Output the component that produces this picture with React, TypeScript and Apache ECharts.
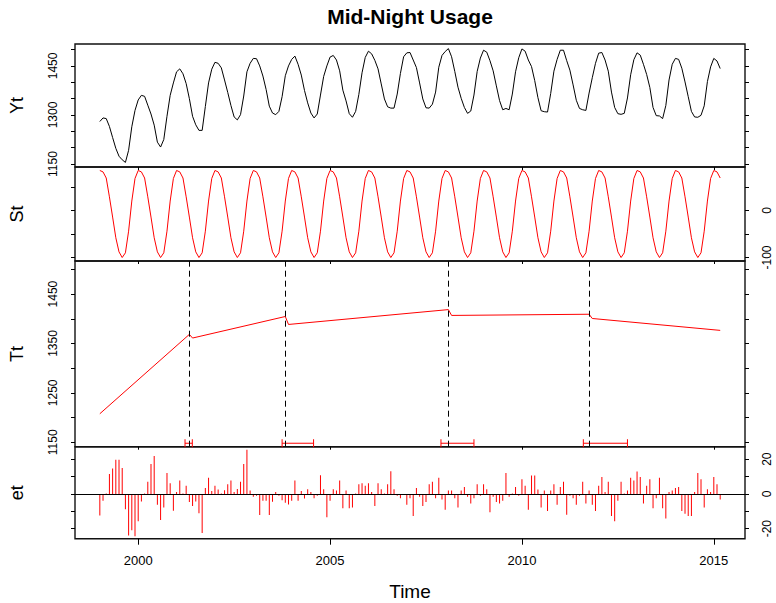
import React, { useEffect, useRef } from "react";
import * as echarts from "echarts";

// Monthly series, Jan 1999 .. Mar 2015 (195 months)
const startYear = 1999;

const yt = [
  1280, 1291, 1289, 1265, 1231, 1198, 1174, 1163, 1155, 1192, 1264, 1314,
  1346, 1360, 1357, 1330, 1303, 1269, 1217, 1202, 1225, 1296, 1360, 1398,
  1432, 1441, 1426, 1396, 1350, 1296, 1270, 1253, 1253, 1326, 1398, 1440,
  1461, 1458, 1444, 1407, 1369, 1329, 1294, 1285, 1301, 1358, 1432, 1458,
  1473, 1472, 1450, 1419, 1378, 1327, 1306, 1301, 1311, 1356, 1420, 1450,
  1470, 1480, 1455, 1422, 1375, 1337, 1306, 1291, 1303, 1361, 1418, 1450,
  1477, 1482, 1468, 1435, 1376, 1343, 1304, 1293, 1311, 1363, 1429, 1476,
  1495, 1487, 1467, 1441, 1395, 1349, 1325, 1321, 1321, 1364, 1427, 1478,
  1490, 1491, 1468, 1445, 1398, 1349, 1322, 1321, 1333, 1370, 1446, 1482,
  1494, 1503, 1478, 1433, 1385, 1351, 1323, 1305, 1312, 1361, 1433, 1474,
  1498, 1492, 1466, 1435, 1389, 1344, 1316, 1320, 1316, 1364, 1432, 1475,
  1502, 1495, 1468, 1448, 1405, 1353, 1313, 1310, 1309, 1366, 1434, 1470,
  1498, 1498, 1466, 1437, 1392, 1345, 1320, 1316, 1314, 1367, 1414, 1458,
  1489, 1491, 1468, 1434, 1370, 1323, 1304, 1302, 1305, 1352, 1423, 1469,
  1490, 1483, 1455, 1424, 1384, 1323, 1298, 1297, 1289, 1329, 1407, 1455,
  1473, 1470, 1443, 1401, 1356, 1311, 1294, 1293, 1299, 1328, 1402, 1447,
  1473, 1465, 1442,
];

const st = [
  85, 82, 69, 29, -14, -58, -88, -100, -90, -44, 20, 68,
  85, 82, 69, 29, -14, -58, -88, -100, -90, -44, 20, 68,
  85, 82, 69, 29, -14, -58, -88, -100, -90, -44, 20, 68,
  85, 82, 69, 29, -14, -58, -88, -100, -90, -44, 20, 68,
  85, 82, 69, 29, -14, -58, -88, -100, -90, -44, 20, 68,
  85, 82, 69, 29, -14, -58, -88, -100, -90, -44, 20, 68,
  85, 82, 69, 29, -14, -58, -88, -100, -90, -44, 20, 68,
  85, 82, 69, 29, -14, -58, -88, -100, -90, -44, 20, 68,
  85, 82, 69, 29, -14, -58, -88, -100, -90, -44, 20, 68,
  85, 82, 69, 29, -14, -58, -88, -100, -90, -44, 20, 68,
  85, 82, 69, 29, -14, -58, -88, -100, -90, -44, 20, 68,
  85, 82, 69, 29, -14, -58, -88, -100, -90, -44, 20, 68,
  85, 82, 69, 29, -14, -58, -88, -100, -90, -44, 20, 68,
  85, 82, 69, 29, -14, -58, -88, -100, -90, -44, 20, 68,
  85, 82, 69, 29, -14, -58, -88, -100, -90, -44, 20, 68,
  85, 82, 69, 29, -14, -58, -88, -100, -90, -44, 20, 68,
  85, 82, 69,
];

const et = [
  -12.5, -4, 0.3, 11.5, 14.6, 19.7, 19.7, 15, -8.9, -23.9, -21, -24.4,
  -15.7, -4.4, 0.3, 7, 17.2, 21.8, -6.3, -15, -7.8, 12.1, 6.2, -9.7,
  1.1, 7.8, 0.2, 4.7, -4.7, -7, -4.4, -11.2, -22.5, 3.4, 9.3, 1.7,
  4.7, 2.5, 0.2, 2.1, 5.5, 7.8, 1.1, 2.8, 7, 17.2, 25.4, 1.9,
  -1.7, -1.1, -12.1, -4, -4, -12.1, -4.5, 1.1, -1.1, -3.6, -5.1, -6.1,
  -4, 7.8, -4, 1.7, -2.6, 2.7, 1.1, -2.5, -1.1, 10.8, 2.7, -13.4,
  -4, 2.7, 1.9, 7.8, -8.3, 1.9, -8.3, -7.8, 0.2, 5.5, 6.2, 4.7,
  6.2, 1.1, -7, 6.2, 2.7, 0.2, 5.5, 13, 2.7, -1.1, -2.5, -0.2,
  -6.3, -2.5, -12.7, 3.4, -1.7, -7, -4.7, 5.5, 7, -2.5, 9.3, -3.2,
  -9.1, 1.9, 1.9, -2.5, -7.8, 1.9, 4, -1.7, -5.5, -2.5, 5.5, -1.1,
  5.5, 2.7, -10.6, -1.7, -4.7, -5.5, -4, 12.1, -1.7, 0.2, 4, -1.1,
  8.5, 4.7, -9.1, 10.6, 10.6, 2.5, -7.8, 1.9, -9.8, 1.9, 5.5, -6.3,
  4, 7, -12, -1.1, -2.5, -6.3, -1.1, 7, -5.5, 1.9, -6.3, -9.8,
  4.7, 9.8, 1.1, 7, -12.7, -15.7, -4, 7, 0.2, 1.9, 9.3, 7.8,
  12.9, 9.8, -5.5, 4.7, 8.5, -8.3, -2.5, 9.3, -8.3, -14.2, 1.1, 1.9,
  3.4, 4, -9.8, -11.4, -12.7, -12.7, 1.1, 12.1, 8.5, -7.8, 2.7, 1.1,
  9.8, 5.5, -3.2,
];

// Piecewise-linear trend read at segment ends
const trendTime = [1999.0, 2001.333, 2001.417, 2003.833, 2003.917, 2008.083, 2008.167, 2011.75, 2011.833, 2015.167];
const trendValue = [1207.7, 1368.4, 1361.0, 1404.6, 1388.5, 1418.6, 1406.8, 1409.2, 1400.6, 1376.5];

// Breakpoints and their confidence intervals
const breakpoints = [2001.333, 2003.833, 2008.083, 2011.75];
const ciLow = [2001.22, 2003.75, 2007.89, 2011.6];
const ciHigh = [2001.41, 2004.57, 2008.75, 2012.75];
const ciLevel = 1148;

// Axis ticks / labels
const yearTicks = [2000, 2005, 2010, 2015];
const levelTicks = [1150, 1200, 1250, 1300, 1350, 1400, 1450, 1500];
const ytLabels = [1150, 1300, 1450];
const ttLabels = [1150, 1250, 1350, 1450];
const stTicks = [-100, -50, 0, 50];
const stLabels = [-100, 0];
const etTicks = [-20, -10, 0, 10, 20];
const etLabels = [-20, 0, 20];

const FONT = "'Liberation Sans', Arial, sans-serif";
const RED = "#ff0000";
const X_MIN = 1998.353;
const X_MAX = 2015.813;

const PLOT_LEFT = 75;
const PLOT_W = 670;
const panels = [
  { top: 44, height: 123 },
  { top: 167, height: 94 },
  { top: 261, height: 185.7 },
  { top: 446.7, height: 92 },
];

function timeOf(k: number) {
  return startYear + k / 12;
}

export default function App() {
  const ref = useRef<HTMLDivElement>(null);

  useEffect(() => {
    if (!ref.current) return;
    const chart = echarts.init(ref.current, undefined, { renderer: "svg" });

    const ytData = yt.map((v, k) => [timeOf(k), v]);
    const stData = st.map((v, k) => [timeOf(k), v]);
    const etData = et.map((v, k) => [timeOf(k), v]);
    const ttData = trendTime.map((t, i) => [t, trendValue[i]]);
    const ciData = ciLow.map((lo, i) => [lo, ciHigh[i], ciLevel]);

    const plain = (v: number) => String(Math.round(v));

    const xAxes = panels.map((_, i) => ({
      type: "value",
      gridIndex: i,
      min: X_MIN,
      max: X_MAX,
      axisLine: { show: false, onZero: false },
      splitLine: { show: false },
      axisTick: {
        show: true,
        customValues: yearTicks,
        length: i === 3 ? 6 : 3,
        lineStyle: { color: "#000", width: 1 },
      },
      axisLabel: {
        show: i === 3,
        customValues: yearTicks,
        color: "#000",
        fontSize: 13,
        fontFamily: FONT,
        margin: 15,
        formatter: plain,
      },
    }));

    const mkY = (
      gridIndex: number,
      position: "left" | "right",
      min: number,
      max: number,
      ticks: number[],
      labels: number[] | null
    ) => ({
      type: "value",
      gridIndex,
      position,
      min,
      max,
      axisLine: { show: false },
      splitLine: { show: false },
      axisTick: {
        show: true,
        customValues: ticks,
        length: 4,
        lineStyle: { color: "#000", width: 1 },
      },
      axisLabel: {
        show: !!labels,
        customValues: labels || [],
        rotate: 90,
        color: "#000",
        fontSize: 12,
        fontFamily: FONT,
        margin: 16,
        formatter: plain,
      },
    });

    const yAxes = [
      mkY(0, "left", 1141, 1517, levelTicks, ytLabels),
      mkY(0, "right", 1141, 1517, levelTicks, null),
      mkY(1, "left", -107.4, 92.4, stTicks, null),
      mkY(1, "right", -107.4, 92.4, stTicks, stLabels),
      mkY(2, "left", 1141, 1517, levelTicks, ttLabels),
      mkY(2, "right", 1141, 1517, levelTicks, null),
      mkY(3, "left", -25.8, 27.2, etTicks, null),
      mkY(3, "right", -25.8, 27.2, etTicks, etLabels),
    ];

    const nameText = (text: string, x: number, y: number, rot: number, size: number) => ({
      type: "text",
      x,
      y,
      rotation: rot,
      style: {
        text,
        fill: "#000",
        fontSize: size,
        fontFamily: FONT,
        align: "center",
        verticalAlign: "middle",
      },
    });

    const option = {
      animation: false,
      backgroundColor: "#fff",
      title: {
        text: "Mid-Night Usage",
        left: 410,
        top: 6,
        textAlign: "center",
        padding: 0,
        textStyle: { fontSize: 21, fontWeight: "bold", color: "#000", fontFamily: FONT },
      },
      grid: panels.map((p) => ({
        left: PLOT_LEFT,
        width: PLOT_W,
        top: p.top,
        height: p.height,
        show: true,
        borderColor: "#111",
        borderWidth: 1.4,
        backgroundColor: "transparent",
        containLabel: false,
      })),
      xAxis: xAxes,
      yAxis: yAxes,
      graphic: [
        nameText("Yt", 17, 105.5, Math.PI / 2, 18),
        nameText("St", 17, 214, Math.PI / 2, 18),
        nameText("Tt", 17, 354, Math.PI / 2, 18),
        nameText("et", 17, 492.7, Math.PI / 2, 18),
        nameText("Time", 410, 591, 0, 19),
      ],
      series: [
        {
          name: "Yt",
          type: "line",
          xAxisIndex: 0,
          yAxisIndex: 0,
          data: ytData,
          showSymbol: false,
          lineStyle: { color: "#000", width: 1 },
          itemStyle: { color: "#000" },
          silent: true,
        },
        {
          name: "St",
          type: "line",
          xAxisIndex: 1,
          yAxisIndex: 2,
          data: stData,
          showSymbol: false,
          lineStyle: { color: RED, width: 1 },
          itemStyle: { color: RED },
          silent: true,
        },
        {
          name: "Tt",
          type: "line",
          xAxisIndex: 2,
          yAxisIndex: 4,
          data: ttData,
          showSymbol: false,
          lineStyle: { color: RED, width: 1 },
          itemStyle: { color: RED },
          silent: true,
          markLine: {
            silent: true,
            symbol: ["none", "none"],
            label: { show: false },
            lineStyle: { color: "#000", width: 1, type: [6, 4] },
            data: breakpoints.map((b) => ({ xAxis: b })),
          },
        },
        {
          name: "CI",
          type: "custom",
          xAxisIndex: 2,
          yAxisIndex: 4,
          data: ciData,
          encode: { x: [0, 1], y: 2 },
          silent: true,
          renderItem: (params: any, api: any) => {
            const p1 = api.coord([api.value(0), api.value(2)]);
            const p2 = api.coord([api.value(1), api.value(2)]);
            const h = 4;
            const st2 = { stroke: RED, lineWidth: 1 };
            return {
              type: "group",
              children: [
                { type: "line", shape: { x1: p1[0], y1: p1[1], x2: p2[0], y2: p2[1] }, style: st2 },
                { type: "line", shape: { x1: p1[0], y1: p1[1] - h, x2: p1[0], y2: p1[1] + h }, style: st2 },
                { type: "line", shape: { x1: p2[0], y1: p2[1] - h, x2: p2[0], y2: p2[1] + h }, style: st2 },
              ],
            };
          },
        },
        {
          name: "et",
          type: "bar",
          xAxisIndex: 3,
          yAxisIndex: 6,
          data: etData,
          barWidth: 1,
          itemStyle: { color: RED },
          silent: true,
          markLine: {
            silent: true,
            symbol: ["none", "none"],
            label: { show: false },
            lineStyle: { color: "#000", width: 1, type: "solid" },
            data: [{ yAxis: 0 }],
          },
        },
      ],
    };

    chart.setOption(option as any);
    return () => chart.dispose();
  }, []);

  return (
    <div
      ref={ref}
      style={{ position: "absolute", left: 0, top: 0, width: 776, height: 603, background: "#fff" }}
    />
  );
}
